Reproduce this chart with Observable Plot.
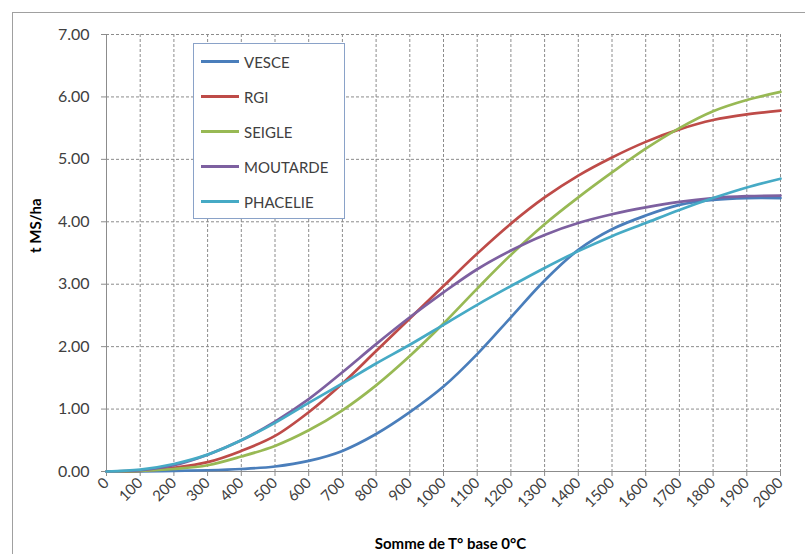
<!DOCTYPE html>
<html><head><meta charset="utf-8">
<script src="https://cdn.jsdelivr.net/npm/d3@7"></script>
<script src="https://cdn.jsdelivr.net/npm/@observablehq/plot@0.6"></script>
<style>
body{margin:0;background:#fff;font-family:Lato, "Open Sans", sans-serif;}
#wrap{position:relative;width:805px;height:554px;overflow:hidden;background:#fff;}
#chart{position:absolute;left:0;top:0;}
#frame{position:absolute;left:12px;top:12px;width:900px;height:700px;border:1.5px solid #a0a0a0;pointer-events:none;}
#legend{position:absolute;left:193px;top:43px;width:152px;height:176px;border:1px solid #8aa2c8;background:#fff;box-sizing:border-box;padding-top:0px;}
.row{height:35px;display:flex;align-items:center;font-size:15px;color:#404040;}
.sw{display:inline-block;width:38px;height:3px;margin-left:7px;margin-right:5px;}
</style></head><body>
<div id="wrap"><div id="chart"></div><div id="frame"></div><div id="legend"></div></div>
<script>
const temps = [0,100,200,300,400,500,600,700,800,900,1000,1100,1200,1300,1400,1500,1600,1700,1800,1900,2000];
const yTicks = [0,1,2,3,4,5,6,7];
const names = ["VESCE","RGI","SEIGLE","MOUTARDE","PHACELIE"];
const colors = ["#4a7ebb","#be4b48","#98b954","#7d60a0","#46aac5"];
const vesce    = [0,0,0.01,0.02,0.04,0.08,0.17,0.33,0.6,0.95,1.36,1.88,2.47,3.06,3.55,3.88,4.1,4.27,4.35,4.38,4.38];
const rgi      = [0,0.01,0.06,0.15,0.33,0.57,0.95,1.41,1.93,2.45,2.97,3.49,3.97,4.39,4.74,5.03,5.28,5.48,5.63,5.72,5.78];
const seigle   = [0,0.01,0.04,0.1,0.24,0.41,0.66,0.98,1.38,1.85,2.37,2.93,3.47,3.96,4.39,4.79,5.17,5.5,5.77,5.95,6.08];
const moutarde = [0,0.02,0.1,0.27,0.5,0.8,1.16,1.59,2.04,2.47,2.87,3.24,3.54,3.79,3.98,4.12,4.23,4.32,4.38,4.41,4.42];
const phacelie = [0,0.03,0.12,0.27,0.5,0.78,1.1,1.41,1.73,2.03,2.35,2.67,2.97,3.26,3.53,3.77,3.98,4.19,4.38,4.55,4.69];
const series = [vesce, rgi, seigle, moutarde, phacelie];

const data = names.flatMap((n, i) => temps.map((t, j) => ({serie: n, t, v: series[i][j]})));

const plot = Plot.plot({
  width: 805, height: 554,
  marginLeft: 106, marginRight: 25, marginTop: 34, marginBottom: 83,
  style: {fontFamily: "Lato, 'Open Sans', sans-serif", fontSize: "15px", color: "#404040", background: "transparent"},
  x: {domain: [0, 2000]},
  y: {domain: [0, 7]},
  color: {domain: names, range: colors},
  marks: [
    Plot.gridX(temps, {stroke: "#8c8c8c", strokeOpacity: 1, strokeDasharray: "3,2"}),
    Plot.gridY(yTicks, {stroke: "#8c8c8c", strokeOpacity: 1, strokeDasharray: "3,2"}),
    Plot.ruleY([0], {stroke: "#8c8c8c"}),
    Plot.ruleX([0], {stroke: "#8c8c8c"}),
    Plot.axisY(yTicks, {tickFormat: d => d.toFixed(2), tickSize: 5, tickPadding: 12, label: null, stroke: "#8c8c8c", fontSize: 16}),
    Plot.axisX(temps, {tickFormat: d => String(d), tickRotate: -45, tickSize: 5, tickPadding: 4, label: null, stroke: "#8c8c8c", fontSize: 15}),
    Plot.line(data, {x: "t", y: "v", z: "serie", stroke: "serie", strokeWidth: 2.7, curve: "catmull-rom"}),
    Plot.text(["t MS/ha"], {frameAnchor: "left", dx: -70, rotate: -90, fontWeight: "bold", fontSize: 15, fill: "#000"}),
    Plot.text(["Somme de T° base 0°C"], {frameAnchor: "bottom", dx: 7, dy: 77, fontWeight: "bold", fontSize: 15, fill: "#000"})
  ]
});
document.getElementById("chart").appendChild(plot);

const leg = document.getElementById("legend");
names.forEach((n, i) => {
  const r = document.createElement("div");
  r.className = "row";
  const s = document.createElement("span");
  s.className = "sw";
  s.style.background = colors[i];
  r.appendChild(s);
  r.appendChild(document.createTextNode(n));
  leg.appendChild(r);
});
</script>
</body></html>
